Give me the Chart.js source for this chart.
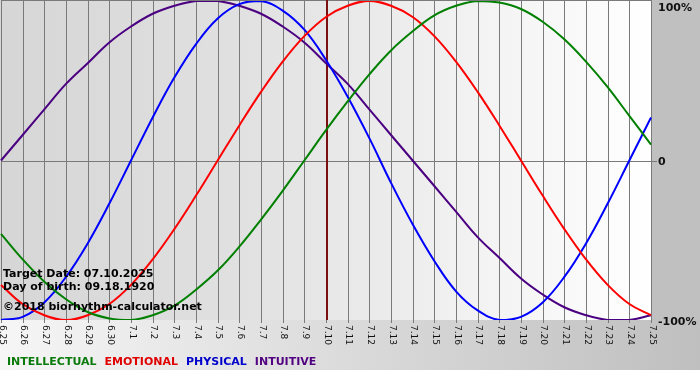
<!DOCTYPE html>
<html>
<head>
<meta charset="utf-8">
<script src="https://cdn.jsdelivr.net/npm/chart.js@4"></script>
<style>
  html, body { margin: 0; padding: 0; background: #fff; }
  #wrap { width: 700px; height: 380px; }
</style>
</head>
<body>
<div id="wrap"><canvas id="bioChart" width="700" height="380"></canvas></div>
<script>
const days = ['6.25', '6.26', '6.27', '6.28', '6.29', '6.30', '7.1', '7.2', '7.3', '7.4', '7.5',
  '7.6', '7.7', '7.8', '7.9', '7.10', '7.11', '7.12', '7.13', '7.14', '7.15', '7.16', '7.17',
  '7.18', '7.19', '7.20', '7.21', '7.22', '7.23', '7.24', '7.25'];

const intellectual = [-0.46, -0.62, -0.76, -0.87, -0.95, -0.99, -1.00, -0.97, -0.91, -0.81, -0.69,
  -0.54, -0.37, -0.19, 0.00, 0.19, 0.37, 0.54, 0.69, 0.81, 0.91, 0.97, 1.00, 0.99, 0.95, 0.87,
  0.76, 0.62, 0.46, 0.28, 0.10];
const emotional = [-0.78, -0.90, -0.97, -1.00, -0.97, -0.90, -0.78, -0.62, -0.43, -0.22, 0.00,
  0.22, 0.43, 0.62, 0.78, 0.90, 0.97, 1.00, 0.97, 0.90, 0.78, 0.62, 0.43, 0.22, 0.00, -0.22,
  -0.43, -0.62, -0.78, -0.90, -0.97];
const physical = [-1.00, -0.98, -0.89, -0.73, -0.52, -0.27, 0.00, 0.27, 0.52, 0.73, 0.89, 0.98,
  1.00, 0.94, 0.82, 0.63, 0.40, 0.14, -0.14, -0.40, -0.63, -0.82, -0.94, -1.00, -0.98, -0.89,
  -0.73, -0.52, -0.27, 0.00, 0.27];
const intuitive = [0.00, 0.16, 0.32, 0.48, 0.61, 0.74, 0.84, 0.92, 0.97, 1.00, 1.00, 0.97, 0.92,
  0.84, 0.74, 0.61, 0.48, 0.32, 0.16, 0.00, -0.16, -0.32, -0.48, -0.61, -0.74, -0.84, -0.92,
  -0.97, -1.00, -1.00, -0.97];

const targetDay = '7.10';
const yTicks = [1, 0, -1];
const yTickLabels = ['100%', '0', '-100%'];
const infoLines = ['Target Date: 07.10.2025', 'Day of birth: 09.18.1920', '\u00a92018 biorhythm-calculator.net'];
const legendItems = [
  { text: 'INTELLECTUAL', color: '#0a7a0a' },
  { text: 'EMOTIONAL', color: '#e00000' },
  { text: 'PHYSICAL', color: '#0000cc' },
  { text: 'INTUITIVE', color: '#500080' },
];

const gridColor = '#7a7a7a';

const framePlugin = {
  id: 'frame',
  beforeDraw(chart) {
    const { ctx, chartArea: a, scales } = chart;
    ctx.save();
    // outer frame, light on the left, darker on the right
    let g = ctx.createLinearGradient(0, 0, 700, 0);
    g.addColorStop(0, '#f6f6f6');
    g.addColorStop(1, '#bfbfbf');
    ctx.fillStyle = g;
    ctx.fillRect(0, 0, 700, 370);
    ctx.fillStyle = '#c0c0c0';
    ctx.fillRect(a.right, 0, 700 - a.right, a.bottom);

    // plot background, darker on the left
    g = ctx.createLinearGradient(a.left, 0, a.right, 0);
    g.addColorStop(0, '#d6d6d6');
    g.addColorStop(0.35, '#e0e0e0');
    g.addColorStop(1, '#ffffff');
    ctx.fillStyle = g;
    ctx.fillRect(a.left - 1, a.top - 1, a.right - a.left + 1, a.bottom - a.top + 1);

    // vertical day lines and ticks
    ctx.strokeStyle = gridColor;
    ctx.lineWidth = 1;
    days.forEach((d, i) => {
      const x = Math.round(scales.x.getPixelForValue(i)) + 0.5;
      ctx.beginPath();
      ctx.moveTo(x, a.top - 1);
      ctx.lineTo(x, a.bottom + 3);
      ctx.stroke();
    });
    // zero line and top border
    const y0 = Math.round(scales.y.getPixelForValue(0)) + 0.5;
    ctx.beginPath();
    ctx.moveTo(a.left, y0);
    ctx.lineTo(a.right + 6, y0);
    ctx.moveTo(a.left, a.top - 0.5);
    ctx.lineTo(a.right, a.top - 0.5);
    ctx.stroke();

    // target date line
    const xt = scales.x.getPixelForValue(days.indexOf(targetDay));
    ctx.strokeStyle = '#7a1010';
    ctx.lineWidth = 2;
    ctx.beginPath();
    ctx.moveTo(xt + 1, a.top - 1);
    ctx.lineTo(xt + 1, a.bottom);
    ctx.stroke();
    ctx.restore();
  },
  afterDraw(chart) {
    const { ctx, chartArea: a, scales } = chart;
    ctx.save();
    // rotated day labels
    ctx.fillStyle = '#111';
    ctx.font = '9px "DejaVu Sans", Verdana, sans-serif';
    ctx.textAlign = 'left';
    ctx.textBaseline = 'middle';
    days.forEach((d, i) => {
      const x = scales.x.getPixelForValue(i);
      ctx.save();
      ctx.translate(x + 1, a.bottom + 5);
      ctx.rotate(Math.PI / 2);
      ctx.fillText(d, 0, 0);
      ctx.restore();
    });

    // percent labels on the right
    ctx.font = 'bold 11px "DejaVu Sans", Verdana, sans-serif';
    ctx.fillStyle = '#111';
    const yOff = [7, 2, 2];
    yTicks.forEach((v, i) => {
      const y = Math.max(scales.y.getPixelForValue(v), 0);
      ctx.fillText(yTickLabels[i], a.right + 7, y + yOff[i]);
    });

    // info text
    ctx.textBaseline = 'alphabetic';
    ctx.fillStyle = '#000';
    const baselines = [277, 290, 310];
    infoLines.forEach((t, i) => ctx.fillText(t, a.left + 2, baselines[i]));

    // legend row
    let x = 7;
    legendItems.forEach((item) => {
      ctx.fillStyle = item.color;
      ctx.fillText(item.text, x, 365);
      x += ctx.measureText(item.text).width + 8;
    });
    ctx.restore();
  },
};

const series = [
  { label: 'INTELLECTUAL', data: intellectual, color: '#008000' },
  { label: 'EMOTIONAL', data: emotional, color: '#ff0000' },
  { label: 'PHYSICAL', data: physical, color: '#0000ff' },
  { label: 'INTUITIVE', data: intuitive, color: '#4b0082' },
];

new Chart(document.getElementById('bioChart'), {
  type: 'line',
  data: {
    labels: days,
    datasets: series.map((s) => ({
      label: s.label,
      data: s.data,
      borderColor: s.color,
      borderWidth: 2,
      pointRadius: 0,
      tension: 0.4,
      fill: false,
    })),
  },
  options: {
    responsive: false,
    animation: false,
    layout: { padding: { left: 1, top: 1, right: 49, bottom: 60 } },
    plugins: { legend: { display: false }, tooltip: { enabled: false } },
    scales: {
      x: { display: false },
      y: { display: false, min: -1, max: 1 },
    },
  },
  plugins: [framePlugin],
});
</script>
</body>
</html>
